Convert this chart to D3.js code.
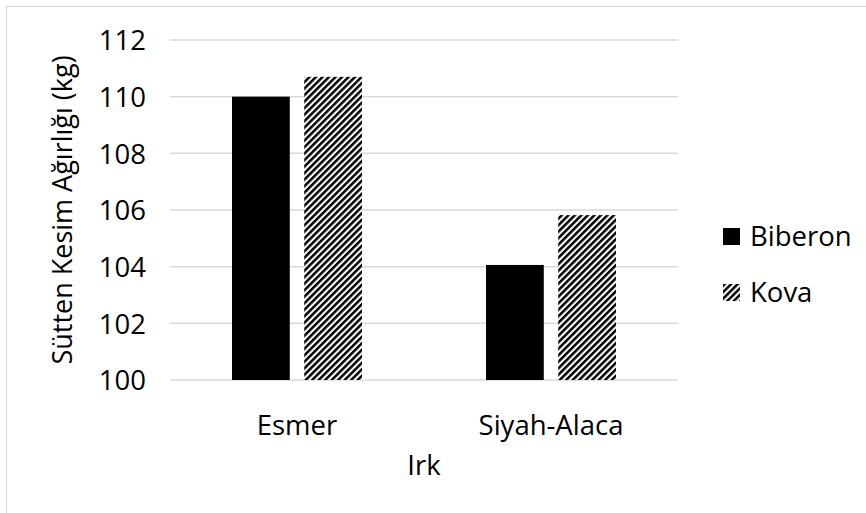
<!DOCTYPE html>
<html>
<head>
<meta charset="utf-8">
<script src="https://cdn.jsdelivr.net/npm/d3@7/dist/d3.min.js"></script>
<style>
  html, body { margin: 0; padding: 0; background: #fff; }
  svg { display: block; font-family: "Open Sans", sans-serif; }
</style>
</head>
<body>
<svg id="chart" width="866" height="513"></svg>
<script>
// Breeds (x categories), feeding methods (series) and weaning weights (kg)
const categories = ["Esmer", "Siyah-Alaca"];
const seriesNames = ["Biberon", "Kova"];
const biberonValues = [110.0, 104.06];
const kovaValues = [110.7, 105.82];
const yTicks = [100, 102, 104, 106, 108, 110, 112];
const yTitle = "Sütten Kesim Ağırlığı (kg)";
const xTitle = "Irk";

const seriesValues = { Biberon: biberonValues, Kova: kovaValues };

const svg = d3.select("#chart");
const W = 866, H = 513;
const plot = { left: 170, right: 678, top: 40, bottom: 380 };
const FS = 27.5;

// stripe pattern for the "Kova" series
const P = 4.6;
const defs = svg.append("defs");
const pat = defs.append("pattern")
  .attr("id", "hatch")
  .attr("patternUnits", "userSpaceOnUse")
  .attr("width", P).attr("height", P)
  .attr("patternTransform", "rotate(45)");
pat.append("rect").attr("width", P).attr("height", P).attr("fill", "#fff");
pat.append("rect").attr("x", 0).attr("width", 2.5).attr("height", P).attr("fill", "#000");

// outer chart border
svg.append("rect")
  .attr("x", 6.5).attr("y", 6.5)
  .attr("width", W + 10).attr("height", H + 10)
  .attr("fill", "none").attr("stroke", "#d9d9d9").attr("stroke-width", 1.3);

const y = d3.scaleLinear().domain([100, 112]).range([plot.bottom, plot.top]);
const x0 = d3.scaleBand().domain(categories).range([plot.left, plot.right]).padding(0);
const x1 = d3.scaleBand().domain(seriesNames)
  .range([62, x0.bandwidth() - 62]).paddingInner(0.2).paddingOuter(0);

// gridlines
svg.append("g")
  .selectAll("line")
  .data(yTicks)
  .join("line")
  .attr("x1", plot.left).attr("x2", plot.right)
  .attr("y1", d => y(d)).attr("y2", d => y(d))
  .attr("stroke", "#d9d9d9").attr("stroke-width", 1.5);

// y axis labels
const yAxis = d3.axisLeft(y).tickValues(yTicks).tickSize(0).tickPadding(0);
const gy = svg.append("g").attr("transform", "translate(146,0)").call(yAxis);
gy.select(".domain").remove();
gy.selectAll("text")
  .attr("font-family", "Open Sans, sans-serif")
  .attr("font-size", FS).attr("fill", "#000").attr("dy", "0.36em");

// bars
const groups = svg.append("g")
  .selectAll("g")
  .data(categories)
  .join("g")
  .attr("transform", d => `translate(${x0(d)},0)`);

groups.selectAll("rect")
  .data((c, i) => seriesNames.map(s => ({ s, v: seriesValues[s][i] })))
  .join("rect")
  .attr("x", d => x1(d.s))
  .attr("width", x1.bandwidth())
  .attr("y", d => y(d.v))
  .attr("height", d => y(100) - y(d.v))
  .attr("fill", d => d.s === "Kova" ? "url(#hatch)" : "#000");

// x axis labels
const xAxis = d3.axisBottom(x0).tickSize(0).tickPadding(0);
const gx = svg.append("g").attr("transform", `translate(0,${plot.bottom})`).call(xAxis);
gx.select(".domain").remove();
gx.selectAll("text")
  .attr("font-family", "Open Sans, sans-serif")
  .attr("font-size", FS).attr("fill", "#000")
  .attr("y", 0).attr("dy", 55);

// axis titles
svg.append("text")
  .attr("x", (plot.left + plot.right) / 2).attr("y", 475)
  .attr("text-anchor", "middle").attr("font-size", FS).attr("fill", "#000")
  .text(xTitle);

svg.append("text")
  .attr("transform", `translate(72,210) rotate(-90)`)
  .attr("text-anchor", "middle").attr("font-size", 27).attr("fill", "#000")
  .text(yTitle);

// legend
const legend = svg.append("g")
  .selectAll("g")
  .data(seriesNames)
  .join("g")
  .attr("transform", (d, i) => `translate(723,${228 + i * 56})`);
legend.append("rect")
  .attr("width", 17).attr("height", 17)
  .attr("fill", d => d === "Kova" ? "url(#hatch)" : "#000");
legend.append("text")
  .attr("x", 27).attr("y", 18)
  .attr("font-size", FS).attr("fill", "#000")
  .text(d => d);
</script>
</body>
</html>
